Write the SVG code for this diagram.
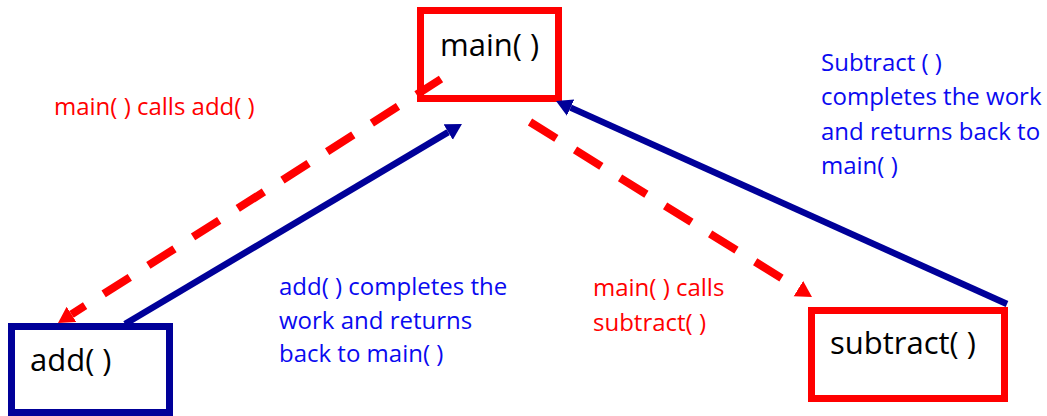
<svg xmlns="http://www.w3.org/2000/svg" width="1047" height="416" viewBox="0 0 1047 416">
  <style>
    text { font-family: "Open Sans", "Noto Sans", "Liberation Sans", sans-serif; }
    .box-red { fill: #ffffff; stroke: #ff0000; stroke-width: 7; }
    .box-blue { fill: #ffffff; stroke: #000099; stroke-width: 7; }
    .node-label { font-size: 31px; fill: #000000; }
    .call { fill: none; stroke: #ff0000; stroke-width: 8; stroke-dasharray: 31 22; stroke-dashoffset: 2; }
    .ret { fill: none; stroke: #000099; stroke-width: 6.5; }
    .note-red { font-size: 24px; fill: #ff0000; }
    .note-blue { font-size: 24px; fill: #0a0af0; }
  </style>
  <defs>
    <marker id="head-red" markerUnits="userSpaceOnUse" markerWidth="18" markerHeight="20" refX="0" refY="9" orient="auto">
      <path d="M0,0 L16,9 L0,18 z" fill="#ff0000"/>
    </marker>
    <marker id="head-blue" markerUnits="userSpaceOnUse" markerWidth="18" markerHeight="20" refX="0" refY="9" orient="auto">
      <path d="M0,0 L16,9 L0,18 z" fill="#000099"/>
    </marker>
  </defs>

  <rect width="1047" height="416" fill="#ffffff"/>

  <g id="node-main">
    <rect class="box-red" x="420.5" y="10.5" width="138" height="88"/>
    <text class="node-label" x="440" y="56">main( )</text>
  </g>

  <g id="node-add">
    <rect class="box-blue" x="11.5" y="326.5" width="158" height="86"/>
    <text class="node-label" x="30" y="371">add( )</text>
  </g>

  <g id="node-subtract">
    <rect class="box-red" x="811.5" y="310.5" width="193" height="88"/>
    <text class="node-label" x="830" y="354">subtract( )</text>
  </g>

  <g id="connectors">
    <!-- main calls add -->
    <path class="call" d="M441,79 L71.5,314.4" marker-end="url(#head-red)"/>
    <!-- add returns to main -->
    <path class="ret" d="M125,324 L448.2,132.1" marker-end="url(#head-blue)"/>
    <!-- main calls subtract -->
    <path class="call" style="stroke-dashoffset:0" d="M530,122 L798.4,288.6" marker-end="url(#head-red)"/>
    <!-- subtract returns to main -->
    <path class="ret" d="M1007,304 L570.6,107.6" marker-end="url(#head-blue)"/>
  </g>

  <g id="labels">
    <text class="note-red" x="54" y="115">main( ) calls add( )</text>
    <text class="note-blue" x="279">
      <tspan x="279" y="295">add( ) completes the</tspan>
      <tspan x="279" y="329">work and returns</tspan>
      <tspan x="279" y="362">back to main( )</tspan>
    </text>
    <text class="note-red" x="593">
      <tspan x="593" y="296">main( ) calls</tspan>
      <tspan x="593" y="331">subtract( )</tspan>
    </text>
    <text class="note-blue" x="821">
      <tspan x="821" y="71">Subtract ( )</tspan>
      <tspan x="821" y="105">completes the work</tspan>
      <tspan x="821" y="140">and returns back to</tspan>
      <tspan x="821" y="174">main( )</tspan>
    </text>
  </g>
</svg>
